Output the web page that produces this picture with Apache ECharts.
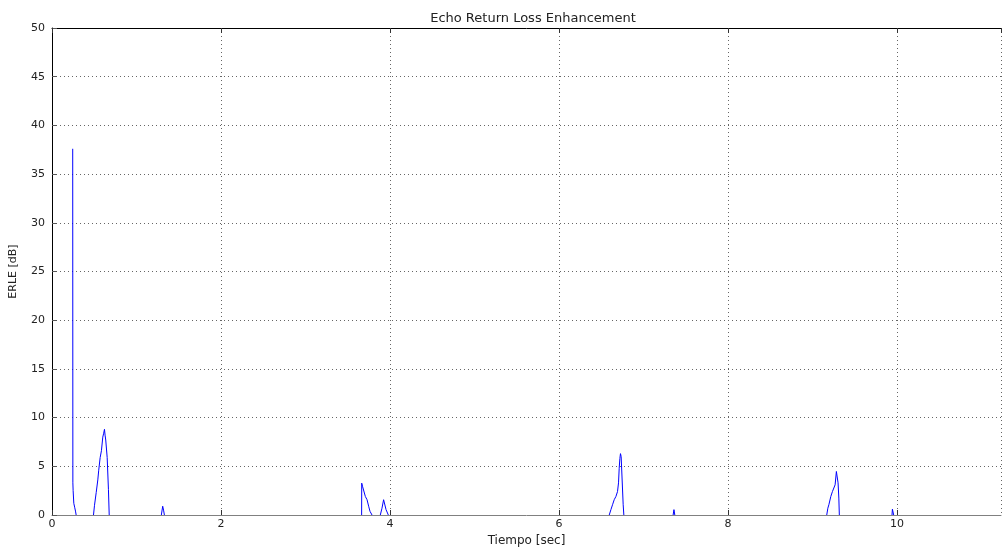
<!DOCTYPE html>
<html lang="es">
<head>
  <meta charset="UTF-8">
  <title>Echo Return Loss Enhancement</title>
  <style>
    html, body { margin: 0; padding: 0; overflow: hidden; background: #fff; }
    #chart { width: 1002px; height: 552px; }
  </style>
</head>
<body>
  <div id="chart"></div>
  <script src="https://cdn.jsdelivr.net/npm/echarts@6/dist/echarts.min.js"></script>
  <script>
    // tiempo [s] y ERLE [dB]; null separa los tramos sin dato
    var timeSec = [
      0.245, 0.247, 0.250, 0.258, 0.262, 0.268, 0.278, 0.286, null,
      0.491, 0.503, 0.523, 0.542, 0.553, 0.570, 0.585, 0.601, 0.612, 0.621, 0.628, 0.636, 0.653, 0.668, 0.677, null,
      1.294, 1.310, 1.320, 1.330, null,
      3.664, 3.665, 3.676, 3.688, 3.708, 3.728, 3.747, 3.763, 3.787, null,
      3.885, 3.905, 3.924, 3.936, 3.953, 3.964, 3.980, null,
      6.594, 6.614, 6.633, 6.653, 6.673, 6.692, 6.704, 6.712, 6.720, 6.727, 6.735, 6.747, 6.759, 6.767, null,
      7.350, 7.360, 7.370, null,
      9.168, 9.181, 9.193, 9.216, 9.235, 9.251, 9.267, 9.282, 9.294, 9.302, 9.311, 9.317, null,
      9.940, 9.945, 9.955, 9.960
    ];
    var erleDb = [
      37.6, 3.3, 2.5, 1.2, 1.1, 0.8, 0.4, 0, null,
      0, 1.0, 2.3, 3.6, 4.6, 5.9, 6.6, 8.0, 8.4, 8.8, 8.2, 7.7, 5.9, 2.6, 0, null,
      0, 0.9, 0.5, 0, null,
      0, 3.27, 2.9, 2.76, 1.9, 1.57, 0.9, 0.38, 0, null,
      0, 0.7, 1.57, 1.4, 0.55, 0.7, 0, null,
      0, 0.55, 1.05, 1.57, 1.9, 2.4, 3.3, 4.8, 5.8, 6.3, 6.0, 5.8, 1.05, 0, null,
      0, 0.55, 0, null,
      0, 0.7, 1.05, 1.9, 2.4, 2.25, 3.1, 4.47, 4.6, 3.3, 1.74, 0, null,
      0, 0.6, 0.55, 0
    ];
    var xTicks = { min: 0, max: 11.23, step: 2 };
    var yTicks = { min: 0, max: 50, step: 5 };

    var points = timeSec.map(function (t, i) {
      return t === null ? [null, null] : [t, erleDb[i]];
    });

    var txt = { color: '#222', fontFamily: 'DejaVu Sans', fontSize: 11 };
    var dotted = { show: true, lineStyle: { color: '#666', type: [1, 3], width: 1 } };

    var chart = echarts.init(document.getElementById('chart'));
    chart.setOption({
      animation: false,
      title: {
        text: 'Echo Return Loss Enhancement',
        left: 528, top: 7, textAlign: 'center',
        textStyle: { color: '#222', fontFamily: 'DejaVu Sans', fontSize: 13, fontWeight: 'normal' }
      },
      grid: { left: 52, top: 28, right: 1, bottom: 34 },
      xAxis: [{
        type: 'value', min: xTicks.min, max: xTicks.max, interval: xTicks.step,
        name: 'Tiempo [sec]', nameLocation: 'middle', nameGap: 20,
        nameTextStyle: Object.assign({}, txt, { fontSize: 12 }),
        axisLine: { lineStyle: { color: '#808080', width: 1 } },
        axisTick: { inside: true, length: 5, lineStyle: { color: '#333' } },
        axisLabel: Object.assign({ showMaxLabel: false, margin: 4 }, txt),
        splitLine: dotted
      }, {
        type: 'value', position: 'top', min: xTicks.min, max: xTicks.max, interval: xTicks.step,
        axisLine: { show: true, lineStyle: { color: '#000', width: 1 } },
        axisTick: { inside: true, length: 5, lineStyle: { color: '#333' } },
        axisLabel: { show: false },
        splitLine: { show: false }
      }],
      yAxis: {
        type: 'value', min: yTicks.min, max: yTicks.max, interval: yTicks.step,
        name: 'ERLE [dB]', nameLocation: 'middle', nameGap: 33,
        nameTextStyle: txt,
        axisLine: { show: true, lineStyle: { color: '#000', width: 1 } },
        axisTick: { show: true, inside: true, length: 5, lineStyle: { color: '#555' } },
        axisLabel: Object.assign({ margin: 7 }, txt),
        splitLine: dotted
      },
      series: [{
        type: 'line',
        data: points,
        showSymbol: false,
        connectNulls: false,
        lineStyle: { color: '#0000ff', width: 1 },
        itemStyle: { color: '#0000ff' }
      }]
    });
  </script>
</body>
</html>
